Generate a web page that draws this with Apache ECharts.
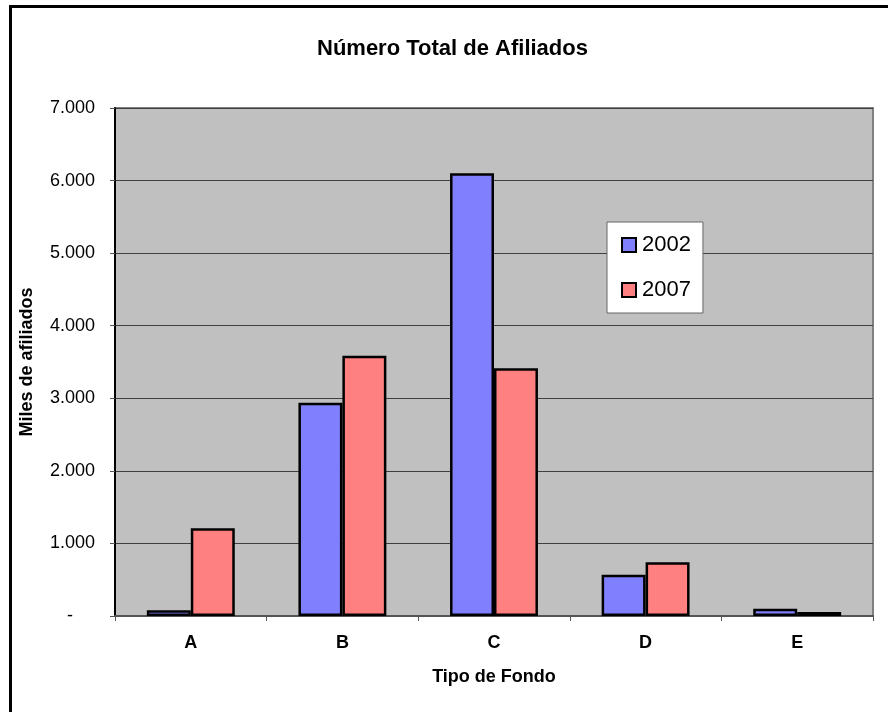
<!DOCTYPE html>
<html>
<head>
<meta charset="utf-8">
<script src="https://cdn.jsdelivr.net/npm/echarts@6/dist/echarts.min.js"></script>
<style>
  html, body { margin: 0; padding: 0; background: #fff; overflow: hidden; }
  #chart { width: 888px; height: 712px; }
</style>
</head>
<body>
<div id="chart"></div>
<script>
// datos (miles de afiliados)
const categories = ['A', 'B', 'C', 'D', 'E']
const afiliados2002 = [80, 2940, 6100, 570, 100]
const afiliados2007 = [1210, 3585, 3415, 740, 55]
const yTicks = [0, 1000, 2000, 3000, 4000, 5000, 6000, 7000]

const fontFamily = '"Liberation Sans", Arial, sans-serif'

// formato con punto de miles, cero como guion
const fmtMiles = v => {
  if (v === 0) return '{z|-}'
  return String(v).replace(/\B(?=(\d{3})+(?!\d))/g, '.')
}

const chart = echarts.init(document.getElementById('chart'))

const option = {
  animation: false,
  backgroundColor: '#fff',
  textStyle: { fontFamily },
  graphic: [
    {
      type: 'rect',
      shape: { x: 10.5, y: 6.5, width: 1000, height: 1000 },
      style: { fill: 'none', stroke: '#000', lineWidth: 3 },
      silent: true
    }
  ],
  title: {
    text: 'Número Total de Afiliados',
    left: 317,
    top: 38,
    padding: 0,
    textStyle: { fontSize: 22, fontWeight: 'bold', color: '#000', fontFamily }
  },
  legend: {
    orient: 'vertical',
    left: 607,
    top: 222,
    padding: [11, 12, 11, 14],
    itemGap: 21,
    itemWidth: 14,
    itemHeight: 14,
    icon: 'rect',
    backgroundColor: '#fff',
    borderColor: '#666',
    borderWidth: 1,
    borderRadius: 0,
    itemStyle: { borderColor: '#000', borderWidth: 2 },
    textStyle: { fontSize: 22, lineHeight: 24, color: '#000', fontFamily, padding: [0, 0, 0, 1] },
    data: ['2002', '2007']
  },
  grid: {
    left: 115,
    right: 15,
    top: 108,
    bottom: 96,
    show: true,
    backgroundColor: '#c0c0c0',
    borderColor: '#808080',
    borderWidth: 2
  },
  xAxis: {
    type: 'category',
    data: categories,
    name: 'Tipo de Fondo',
    nameLocation: 'middle',
    nameGap: 52,
    nameTextStyle: { fontSize: 18, fontWeight: 'bold', color: '#000', fontFamily },
    axisLine: { lineStyle: { color: '#555', width: 2 } },
    axisTick: { show: true, length: 5, lineStyle: { color: '#555', width: 1 } },
    axisLabel: { fontSize: 18, fontWeight: 'bold', color: '#000', margin: 18, fontFamily }
  },
  yAxis: {
    type: 'value',
    min: 0,
    max: 7000,
    interval: 1000,
    name: 'Miles de afiliados',
    nameLocation: 'middle',
    nameGap: 79,
    nameTextStyle: { fontSize: 18, fontWeight: 'bold', color: '#000', fontFamily },
    axisLine: { show: true, lineStyle: { color: '#000', width: 2 } },
    axisTick: { show: true, length: 5, lineStyle: { color: '#555', width: 1 } },
    axisLabel: {
      fontSize: 18,
      color: '#000',
      margin: 20,
      fontFamily,
      formatter: v => (yTicks.includes(v) ? fmtMiles(v) : ''),
      rich: {
        z: { fontSize: 18, color: '#000', fontFamily, padding: [0, 22, 0, 0] }
      }
    },
    splitLine: { show: true, lineStyle: { color: '#404040', width: 1 } }
  },
  series: [
    {
      name: '2002',
      type: 'bar',
      data: afiliados2002,
      barGap: '0%',
      barCategoryGap: '42%',
      itemStyle: { color: '#8080ff', borderColor: '#000', borderWidth: 2.5 }
    },
    {
      name: '2007',
      type: 'bar',
      data: afiliados2007,
      barGap: '0%',
      barCategoryGap: '42%',
      itemStyle: { color: '#ff8080', borderColor: '#000', borderWidth: 2.5 }
    }
  ]
}

chart.setOption(option)
</script>
</body>
</html>
